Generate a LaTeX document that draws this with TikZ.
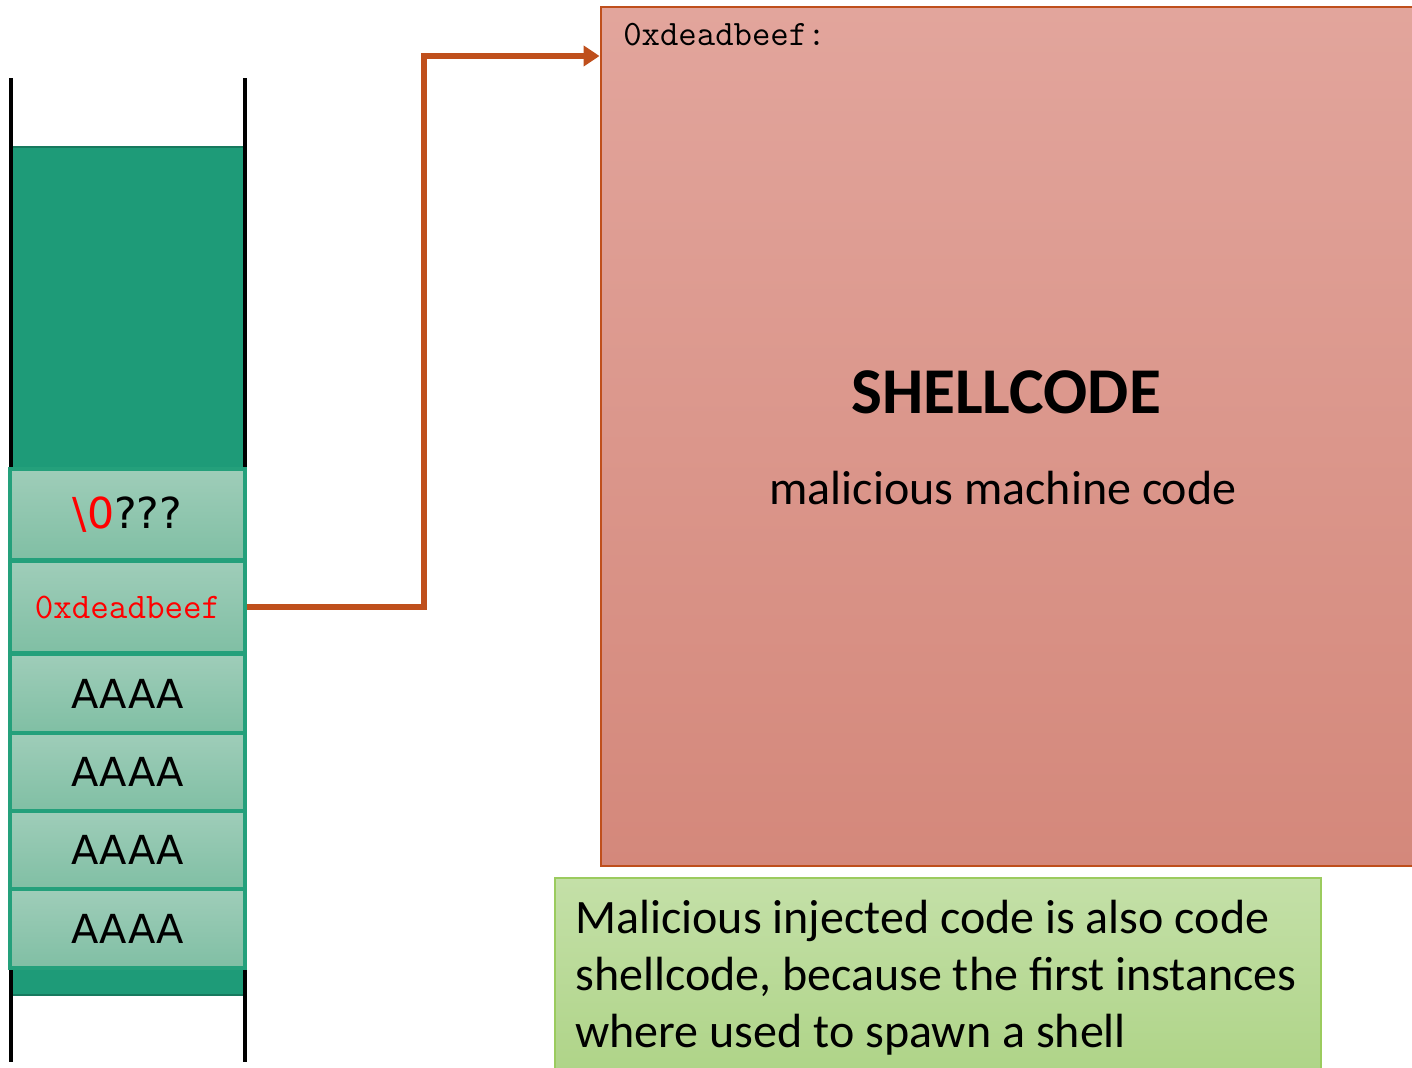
\documentclass[tikz,border=0pt]{standalone}
\usepackage{fontspec}
\setmainfont{Carlito}
\newfontfamily\stackfont{DejaVu Sans}
\usetikzlibrary{arrows.meta,fit}

\definecolor{stackdark}{HTML}{1E9B78}
\definecolor{stackedge}{HTML}{17795E}
\definecolor{slottop}{HTML}{9FCDB9}
\definecolor{slotbot}{HTML}{80BFA4}
\definecolor{slotedge}{HTML}{24A07B}
\definecolor{ptrcol}{HTML}{BF4F1C}
\definecolor{shelltop}{HTML}{E2A59C}
\definecolor{shellbot}{HTML}{D4887B}
\definecolor{notetop}{HTML}{C4E0A8}
\definecolor{notebot}{HTML}{ADD385}
\definecolor{noteedge}{HTML}{9BCB5E}

\tikzset{
  wall/.style={line width=2.4pt, black},
  slot/.style={draw=slotedge, line width=2.3pt, top color=slottop, bottom color=slotbot,
    minimum width=235*0.75pt, inner sep=0pt, font=\stackfont\fontsize{30}{36}\selectfont},
  ptr/.style={draw=ptrcol, line width=3.8pt, -{Triangle[length=12pt,width=15pt]}},
}

\begin{document}
\begin{tikzpicture}[x=0.75pt,y=-0.75pt]
\useasboundingbox (0,0) rectangle (1412,1067);
\clip (0,0) rectangle (1412,1067);

% stack body and walls
\fill[stackdark, draw=stackedge, line width=1.2pt] (12,147) rectangle (244,995);
\draw[wall] (11,78) -- (11,1062);
\draw[wall] (245,78) -- (245,1062);

% stack slots
\node[slot, minimum height=91*0.75pt, font=\stackfont\fontsize{32}{38}\selectfont] (s1) at (127.5,514.5)
  {\textcolor{red}{\textbackslash 0}???};
\node[slot, minimum height=92*0.75pt, font=\ttfamily\fontsize{27}{32}\selectfont] (s2) at (127.5,607)
  {\textcolor{red}{0xdeadbeef}};
\node[slot, minimum height=78*0.75pt] (s3) at (127.5,693.5) {AAAA};
\node[slot, minimum height=78*0.75pt] (s4) at (127.5,772) {AAAA};
\node[slot, minimum height=78*0.75pt] (s5) at (127.5,850) {AAAA};
\node[slot, minimum height=79*0.75pt] (s6) at (127.5,928.5) {AAAA};

% shellcode region
\coordinate (shTL) at (601,7);
\coordinate (shBR) at (1440,866);
\node[fit=(shTL)(shBR), inner sep=0pt, draw=ptrcol, line width=2.2pt,
  top color=shelltop, bottom color=shellbot] (shell) {};
\node[anchor=base west, inner sep=0pt, font=\ttfamily\fontsize{26.8}{32}\selectfont]
  (shaddr) at (623,45) {0xdeadbeef:};
\node[font=\bfseries\fontsize{49}{58}\selectfont, inner sep=0pt] (shtitle) at (1006,392) {SHELLCODE};
\node[font=\fontsize{36}{43}\selectfont, inner sep=0pt, anchor=base] (shsub) at (1003,504)
  {malicious machine code};

% return address points to the shellcode
\coordinate (bend) at (424,56);
\draw[ptr] (s2.east) -| (bend) -- (shell.west |- bend);

% note box
\coordinate (ntTL) at (555,878);
\coordinate (ntBR) at (1321,1090);
\node[fit=(ntTL)(ntBR), inner sep=0pt, draw=noteedge, line width=2.2pt,
  top color=notetop, bottom color=notebot] (note) {};
\node[anchor=base west, inner sep=0pt, align=left, font=\fontsize{36}{42.75}\selectfont]
  (notetext) at (575,1047)
  {Malicious injected code is also code\\shellcode, because the first instances\\where used to spawn a shell};
\end{tikzpicture}
\end{document}
